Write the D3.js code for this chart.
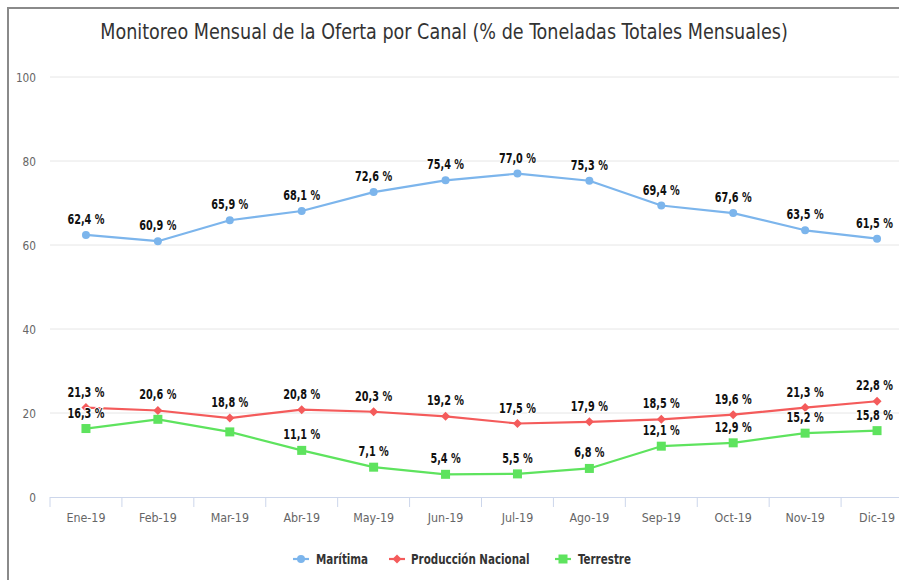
<!DOCTYPE html>
<html><head><meta charset="utf-8">
<script src="https://cdn.jsdelivr.net/npm/d3@7"></script>
<style>
body{margin:0;background:#fff;}
svg{display:block;}
text{font-family:"DejaVu Sans Condensed","DejaVu Sans",sans-serif;}
</style></head><body>
<svg id="c" width="899" height="580"></svg>
<script>
const title = "Monitoreo Mensual de la Oferta por Canal (% de Toneladas Totales Mensuales)";
const months = ["Ene-19","Feb-19","Mar-19","Abr-19","May-19","Jun-19","Jul-19","Ago-19","Sep-19","Oct-19","Nov-19","Dic-19"];
const maritima = [62.4,60.9,65.9,68.1,72.6,75.4,77.0,75.3,69.4,67.6,63.5,61.5];
const produccion = [21.3,20.6,18.8,20.8,20.3,19.2,17.5,17.9,18.5,19.6,21.3,22.8];
const terrestre = [16.3,18.5,15.5,11.1,7.1,5.4,5.5,6.8,12.1,12.9,15.2,15.8];
const yTicks = [0,20,40,60,80,100];
const seriesNames = ["Marítima","Producción Nacional","Terrestre"];
const seriesColors = ["#7cb5ec","#f45b5b","#5ee35e"];
const seriesMarkers = ["circle","diamond","square"];
const showLabel = [
  [1,1,1,1,1,1,1,1,1,1,1,1],
  [1,1,1,1,1,1,1,1,1,1,1,1],
  [1,0,0,1,1,1,1,1,1,1,1,1]
];

const svg = d3.select("#c");
const pLeft = 50, pRight = 913, pTop = 77, pBottom = 497;
const x = d3.scaleBand().domain(months).range([pLeft,pRight]);
const y = d3.scaleLinear().domain([0,100]).range([pBottom,pTop]);
const FONT = '"DejaVu Sans Condensed","DejaVu Sans",sans-serif';

function squeeze(sel, k){
  sel.each(function(){
    const w = this.getComputedTextLength();
    d3.select(this).attr("textLength", w*k).attr("lengthAdjust","spacingAndGlyphs");
  });
}

// frame
svg.append("path").attr("d","M8,580 V8 H899").attr("fill","none").attr("stroke","#8a8a8a").attr("stroke-width",2);

// title
svg.append("text").attr("x",444).attr("y",39).attr("text-anchor","middle")
  .attr("font-size",21).attr("fill","#333").text(title).call(squeeze,0.93);

// grid
svg.append("g").selectAll("line").data(yTicks.filter(d=>d>0)).join("line")
  .attr("x1",pLeft).attr("x2",pRight).attr("y1",d=>y(d)).attr("y2",d=>y(d))
  .attr("stroke","#e6e6e6").attr("stroke-width",1);

// y axis labels
const ya = svg.append("g").attr("transform",`translate(${pLeft},0)`)
  .call(d3.axisLeft(y).tickValues(yTicks).tickSize(0).tickPadding(14));
ya.select(".domain").remove();
ya.selectAll("text").attr("font-size",13).attr("fill","#666").style("font-family",FONT).call(squeeze,0.9);

// x axis
const xa = svg.append("g").attr("transform",`translate(0,${pBottom})`)
  .call(d3.axisBottom(x).tickSize(0).tickPadding(16));
xa.select(".domain").attr("stroke","#ccd6eb").attr("d",`M${pLeft},0.5H${pRight}`);
xa.selectAll("text").attr("font-size",13).attr("fill","#666").style("font-family",FONT).call(squeeze,0.95);
svg.append("g").selectAll("line").data(months.concat(["end"])).join("line")
  .attr("x1",(d,i)=>pLeft+i*x.step()).attr("x2",(d,i)=>pLeft+i*x.step())
  .attr("y1",pBottom).attr("y2",pBottom+10).attr("stroke","#ccd6eb");

const allData = [maritima,produccion,terrestre];
const cx = m => x(m)+x.bandwidth()/2;
const line = d3.line().x((d,i)=>cx(months[i])).y(d=>y(d));

function marker(g,type,color,px,py){
  if(type==="circle") g.append("circle").attr("cx",px).attr("cy",py).attr("r",4).attr("fill",color);
  else if(type==="square") g.append("rect").attr("x",px-4.5).attr("y",py-4.5).attr("width",9).attr("height",9).attr("fill",color);
  else g.append("path").attr("d",`M${px},${py-4.5}L${px+4.5},${py}L${px},${py+4.5}L${px-4.5},${py}Z`).attr("fill",color);
}

allData.forEach((vals,s)=>{
  const g = svg.append("g");
  g.append("path").datum(vals).attr("d",line).attr("fill","none")
    .attr("stroke",seriesColors[s]).attr("stroke-width",2.2).attr("stroke-linejoin","round");
  vals.forEach((v,i)=>marker(g,seriesMarkers[s],seriesColors[s],cx(months[i]),y(v)));
});
const K = 0.8;
allData.forEach((vals,s)=>{
  const g = svg.append("g");
  vals.forEach((v,i)=>{
    if(!showLabel[s][i]) return;
    const t = g.append("text").attr("x",0).attr("y",0)
      .attr("text-anchor","middle").attr("font-size",13.5).attr("font-weight","bold")
      .attr("fill","#111").attr("stroke","#fff").attr("stroke-width",2).attr("paint-order","stroke")
      .text(v.toFixed(1).replace(".",",")+" %");
    const w = t.node().getComputedTextLength()*K;
    let px = cx(months[i]);
    const maxRight = 893;
    if (px + w/2 > maxRight) px = maxRight - w/2;
    t.attr("transform",`translate(${px},${y(v)-11}) scale(${K},1)`);
  });
});

// legend
const legLine = [293,389,555];
const legText = [316,411,578];
seriesNames.forEach((n,s)=>{
  const g = svg.append("g");
  const ly = 559;
  g.append("line").attr("x1",legLine[s]).attr("x2",legLine[s]+16).attr("y1",ly).attr("y2",ly)
    .attr("stroke",seriesColors[s]).attr("stroke-width",2.2);
  marker(g,seriesMarkers[s],seriesColors[s],legLine[s]+8,ly);
  g.append("text").attr("x",legText[s]).attr("y",ly+5).attr("font-size",14).attr("font-weight","bold")
    .attr("fill","#333").text(n).call(squeeze,0.82);
});
</script>
</body></html>
